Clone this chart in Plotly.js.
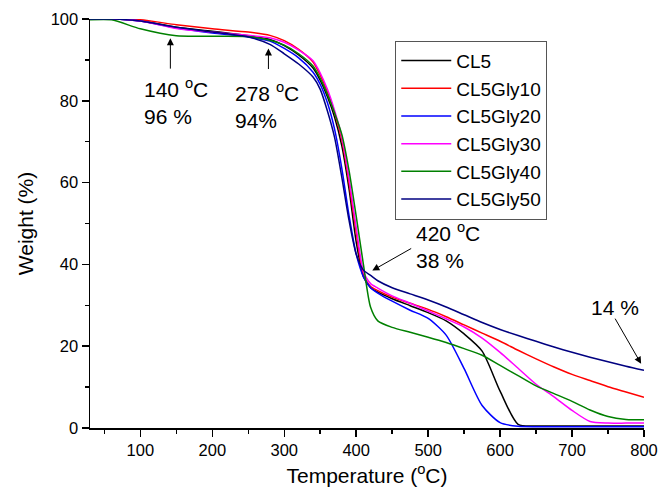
<!DOCTYPE html>
<html>
<head>
<meta charset="utf-8">
<script src="https://cdn.plot.ly/plotly-3.0.1.min.js"></script>
<style>html,body{margin:0;padding:0;background:#fff;}#chart{width:659px;height:490px;}</style>
</head>
<body>
<div id="chart"></div>
<script>
// Temperature grid (°C)
const temperature = [30, 60, 100, 150, 200, 250, 280, 300, 320, 340, 350, 360, 370, 380, 390, 400, 410, 420, 430, 450, 475, 500, 525, 550, 575, 600, 625, 650, 675, 700, 725, 750, 775, 800];

// Weight (%) for each sample
const CL5      = [100, 100, 99.6, 98.0, 97.0, 95.9, 95.0, 93.5, 91.2, 88.0, 85.0, 81.0, 76.0, 69.0, 58.5, 45.5, 37.0, 34.3, 33.2, 31.6, 29.9, 28.2, 26.2, 23.0, 18.8, 9.0, 0.9, 0.5, 0.5, 0.5, 0.5, 0.5, 0.5, 0.5];
const CL5Gly10 = [100, 100, 99.8, 98.6, 97.6, 96.8, 96.0, 94.7, 92.6, 89.5, 86.3, 82.2, 77.0, 70.5, 60.0, 47.8, 37.5, 34.6, 33.6, 32.0, 30.5, 29.0, 27.2, 25.2, 23.2, 21.2, 19.0, 16.9, 14.9, 13.1, 11.6, 10.1, 8.8, 7.5];
const CL5Gly20 = [100, 100, 99.5, 97.8, 96.6, 95.6, 94.6, 92.8, 90.5, 87.0, 84.0, 79.5, 73.0, 63.5, 52.0, 42.5, 37.0, 34.3, 33.0, 31.0, 28.8, 26.8, 22.7, 14.5, 5.5, 1.3, 0.4, 0.3, 0.3, 0.3, 0.3, 0.3, 0.3, 0.3];
const CL5Gly30 = [100, 100, 99.5, 97.7, 96.8, 96.0, 95.4, 94.3, 92.4, 89.8, 86.8, 82.8, 77.6, 71.2, 61.0, 49.0, 38.3, 35.3, 34.2, 32.3, 30.5, 28.6, 26.7, 24.7, 22.0, 18.5, 14.6, 10.7, 7.6, 4.3, 1.6, 1.2, 1.2, 1.2];
const CL5Gly40 = [99.8, 99.8, 97.6, 95.9, 95.8, 95.7, 94.8, 93.6, 91.5, 88.5, 85.5, 81.6, 77.0, 71.8, 63.0, 51.8, 40.0, 29.5, 26.2, 24.6, 23.4, 22.2, 20.9, 19.4, 17.8, 15.3, 12.8, 10.3, 8.4, 6.5, 4.4, 2.8, 2.1, 2.0];
const CL5Gly50 = [100, 100, 99.5, 98.0, 96.8, 95.6, 93.8, 91.5, 89.0, 85.8, 82.8, 77.5, 71.0, 61.3, 50.8, 42.5, 38.6, 37.3, 36.0, 34.3, 32.8, 31.3, 29.6, 27.7, 25.8, 24.1, 22.6, 21.2, 19.8, 18.5, 17.3, 16.2, 15.1, 14.1];

const seriesNames = ["CL5", "CL5Gly10", "CL5Gly20", "CL5Gly30", "CL5Gly40", "CL5Gly50"];
const seriesValues = [CL5, CL5Gly10, CL5Gly20, CL5Gly30, CL5Gly40, CL5Gly50];
const seriesColors = ["#000000", "#ff0000", "#0000ff", "#ff00ff", "#008000", "#000080"];

const xTickVals = [100, 200, 300, 400, 500, 600, 700, 800];
const yTickVals = [0, 20, 40, 60, 80, 100];

const FONT = "Arial, 'Liberation Sans', sans-serif";

const traces = seriesNames.map((n, i) => ({
  x: temperature,
  y: seriesValues[i],
  name: n,
  type: "scatter",
  mode: "lines",
  line: {color: seriesColors[i], width: 1.5, shape: "spline", smoothing: 0.7}
}));

const annFont = {family: FONT, size: 21, color: "#000"};
const arrow = (x, y, ax, ay) => ({
  x: x, y: y, ax: ax, ay: ay, xref: "x", yref: "y", axref: "x", ayref: "y",
  text: "", showarrow: true, arrowhead: 2, arrowsize: 1.4, arrowwidth: 1, arrowcolor: "#000"
});
const label = (x, y, t) => ({
  x: x, y: y, xref: "x", yref: "y", text: t, showarrow: false,
  xanchor: "left", yanchor: "middle", align: "left", font: annFont
});

const layout = {
  width: 659, height: 490,
  margin: {l: 90, r: 15, t: 19, b: 62},
  paper_bgcolor: "#fff", plot_bgcolor: "#fff",
  font: {family: FONT, color: "#000"},
  showlegend: true,
  legend: {
    x: 0.551, y: 0.947, xanchor: "left", yanchor: "top",
    bgcolor: "#fff", bordercolor: "#555", borderwidth: 1,
    font: {family: FONT, size: 19, color: "#000"},
    itemwidth: 50, tracegroupgap: 0
  },
  xaxis: {
    range: [30, 800], tickvals: xTickVals, ticks: "outside", ticklen: 7, tickwidth: 1.5,
    tickcolor: "#000", showline: true, linecolor: "#000", linewidth: 1.5, mirror: false,
    showgrid: false, zeroline: false,
    tickfont: {family: FONT, size: 16.5, color: "#000"},
    minor: {dtick: 50, tick0: 0, ticks: "outside", ticklen: 4, tickwidth: 1.5, tickcolor: "#000", showgrid: false},
    title: {text: "Temperature (<sup>o</sup>C)", font: {family: FONT, size: 21, color: "#000"}, standoff: 10}
  },
  yaxis: {
    range: [0, 100], tickvals: yTickVals, ticks: "outside", ticklen: 7, tickwidth: 1.5,
    tickcolor: "#000", showline: true, linecolor: "#000", linewidth: 1.5, mirror: false,
    showgrid: false, zeroline: false,
    tickfont: {family: FONT, size: 16.5, color: "#000"},
    minor: {dtick: 10, tick0: 0, ticks: "outside", ticklen: 4, tickwidth: 1.5, tickcolor: "#000", showgrid: false},
    title: {text: "Weight (%)", font: {family: FONT, size: 21, color: "#000"}, standoff: 11}
  },
  annotations: [
    arrow(141.7, 95.3, 141.7, 87.5),
    label(102, 79.8, "140 <sup>o</sup>C<br>96 %"),
    arrow(278, 92.8, 278, 87.4),
    label(229, 78.8, "278 <sup>o</sup>C<br>94%"),
    arrow(422.4, 38.5, 478.5, 44.1),
    label(480.5, 44.6, "420 <sup>o</sup>C<br>38 %"),
    arrow(796, 15.7, 758.7, 27.1),
    label(723.5, 29.5, "14 %")
  ]
};

Plotly.newPlot("chart", traces, layout, {displayModeBar: false, staticPlot: true});
</script>
</body>
</html>
